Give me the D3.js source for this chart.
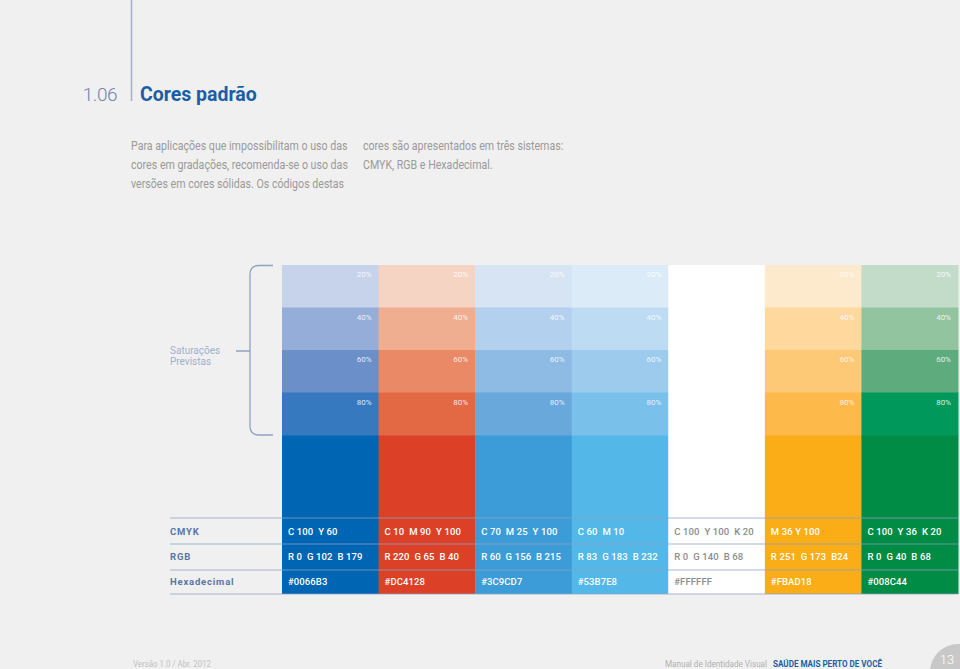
<!DOCTYPE html>
<html>
<head>
<meta charset="utf-8">
<script src="https://cdn.jsdelivr.net/npm/d3@7"></script>
<style>
  html, body { margin: 0; padding: 0; background: #f0f0f0; }
  svg { display: block; font-family: Roboto, "DejaVu Sans", sans-serif; }
</style>
</head>
<body>
<script>
/*** DATA ***/
const hexCodes = ["#0066B3", "#DC4128", "#3C9CD7", "#53B7E8", "#FFFFFF", "#FBAD18", "#008C44"];
const cmykLabels = ["C 100  Y 60", "C 10  M 90  Y 100", "C 70  M 25  Y 100", "C 60  M 10",
                    "C 100  Y 100  K 20", "M 36 Y 100", "C 100  Y 36  K 20"];
const rgbLabels = ["R 0  G 102  B 179", "R 220  G 65  B 40", "R 60  G 156  B 215", "R 83  G 183  B 232",
                   "R 0  G 140  B 68", "R 251  G 173  B24", "R 0  G 40  B 68"];
const saturations = [20, 40, 60, 80];
// tints, one list per column (20%, 40%, 60%, 80%)
const tints = [
  ["#c6d3eb", "#95add9", "#6a8fc9", "#3779bf"],
  ["#f6d4c3", "#efae8f", "#ea8966", "#e26944"],
  ["#d6e4f4", "#b3d0ee", "#8dbbe4", "#68a8db"],
  ["#dcebf8", "#bddcf3", "#9ccbee", "#79c0eb"],
  ["#ffffff", "#ffffff", "#ffffff", "#ffffff"],
  ["#fdeacd", "#fed89d", "#fdc977", "#fdba4a"],
  ["#c3dcca", "#92c4a0", "#5eac7d", "#00995b"]
];
const rowNames = ["CMYK", "RGB", "Hexadecimal"];

/*** LAYOUT ***/
const W = 960, H = 669;
const svg = d3.select("body").append("svg")
  .attr("width", W)
  .attr("height", H);

svg.append("rect").attr("width", W).attr("height", H).attr("fill", "#f0f0f0");

/* cabeçalho */
svg.append("line")
  .attr("x1", 131.5).attr("x2", 131.5).attr("y1", 0).attr("y2", 101)
  .attr("stroke", "#9fb0c8").attr("stroke-width", 1.5);

svg.append("text")
  .attr("x", 117).attr("y", 101)
  .attr("text-anchor", "end")
  .style("font-size", "19px").style("font-weight", 300)
  .attr("fill", "#6e86b0")
  .attr("letter-spacing", "-0.5")
  .text("1.06");

svg.append("text")
  .attr("x", 140).attr("y", 101)
  .style("font-size", "19.5px").style("font-weight", 700)
  .attr("fill", "#1a5ea6")
  .text("Cores padrão");

/* parágrafo (fonte estreitada para lembrar a DIN) */
const para1 = ["Para aplicações que impossibilitam o uso das",
               "cores em gradações, recomenda-se o uso das",
               "versões em cores sólidas. Os códigos destas"];
const para2 = ["cores são apresentados em três sistemas:",
               "CMYK, RGB e Hexadecimal."];
[[para1, 131], [para2, 363]].forEach(([lines, x0]) => {
  svg.append("g")
    .attr("transform", "translate(" + x0 + ",0) scale(0.865,1)")
    .selectAll("text")
    .data(lines)
    .enter().append("text")
    .attr("x", 0)
    .attr("y", (d, i) => 150 + i * 19)
    .style("font-size", "12.3px")
    .attr("fill", "#9a9a9a")
    .text(d => d);
});

/*** GRADE DE CORES ***/
const x = d3.scaleBand()
  .domain(d3.range(hexCodes.length))
  .range([282, 958]);

const y = d3.scaleBand()
  .domain(saturations)
  .range([265, 435]);

const yTable = d3.scaleBand()
  .domain(rowNames)
  .range([518, 594]);

const cols = svg.append("g").selectAll("g")
  .data(hexCodes)
  .enter().append("g")
  .attr("transform", (d, i) => "translate(" + x(i) + ",0)");

/* cor sólida */
cols.append("rect")
  .attr("y", 435)
  .attr("width", x.bandwidth() + 0.5)
  .attr("height", 594 - 435)
  .attr("fill", d => d);

/* saturações */
cols.each(function(d, i) {
  const g = d3.select(this);
  g.selectAll("rect.tint")
    .data(saturations)
    .enter().append("rect")
    .attr("class", "tint")
    .attr("y", s => y(s))
    .attr("width", x.bandwidth() + 0.5)
    .attr("height", y.bandwidth() + 0.5)
    .attr("fill", (s, j) => tints[i][j]);

  g.selectAll("text.pct")
    .data(saturations)
    .enter().append("text")
    .attr("class", "pct")
    .attr("x", x.bandwidth() - 7)
    .attr("y", s => y(s) + 12)
    .attr("text-anchor", "end")
    .style("font-size", "8px")
    .attr("fill", "#ffffff")
    .attr("fill-opacity", 0.85)
    .text(s => s + "%");
});

/* códigos */
const isWhite = d => d === "#FFFFFF";
const codeRows = [cmykLabels, rgbLabels, hexCodes];
codeRows.forEach((labels, r) => {
  cols.append("text")
    .attr("x", 6)
    .attr("y", yTable(rowNames[r]) + yTable.bandwidth() / 2 + 4)
    .style("font-size", "9.5px")
    .style("font-weight", 500)
    .style("white-space", "pre")
    .attr("letter-spacing", "0.1")
    .attr("fill", d => isWhite(d) ? "#8c8c8c" : "#ffffff")
    .text((d, i) => labels[i]);
});

/* linhas da tabela */
svg.append("g").selectAll("line")
  .data([518, 544, 570, 594])
  .enter().append("line")
  .attr("x1", 170).attr("x2", 958)
  .attr("y1", d => d).attr("y2", d => d)
  .attr("stroke", "#8ea2c2")
  .attr("stroke-opacity", 0.75)
  .attr("stroke-width", 1.2);

/* nomes das linhas */
svg.append("g").selectAll("text")
  .data(rowNames)
  .enter().append("text")
  .attr("x", 170)
  .attr("y", d => yTable(d) + yTable.bandwidth() / 2 + 4)
  .style("font-size", "9.5px")
  .style("font-weight", 700)
  .attr("letter-spacing", "0.8")
  .attr("fill", "#5876a6")
  .text(d => d);

/* chave "Saturações Previstas" */
const r = 9;
svg.append("path")
  .attr("d", "M273," + 265.5 + " H" + (250 + r) + " Q250," + 265.5 + " 250," + (265.5 + r)
    + " V" + (435 - r) + " Q250,435 " + (250 + r) + ",435 H273"
    + " M236,351 H250")
  .attr("fill", "none")
  .attr("stroke", "#8ea2c2")
  .attr("stroke-width", 1.3);

svg.append("g").selectAll("text")
  .data(["Saturações", "Previstas"])
  .enter().append("text")
  .attr("x", 170)
  .attr("y", (d, i) => 354 + i * 11)
  .style("font-size", "10px")
  .attr("fill", "#9fb0cc")
  .text(d => d);

/*** RODAPÉ ***/
svg.append("text")
  .attr("x", 133).attr("y", 667)
  .style("font-size", "8.5px")
  .attr("fill", "#c2c2c2")
  .attr("textLength", 78).attr("lengthAdjust", "spacingAndGlyphs")
  .text("Versão 1.0 / Abr. 2012");

svg.append("text")
  .attr("x", 665).attr("y", 667)
  .style("font-size", "8.5px")
  .attr("fill", "#b0b0b0")
  .attr("textLength", 102).attr("lengthAdjust", "spacingAndGlyphs")
  .text("Manual de Identidade Visual");

svg.append("text")
  .attr("x", 773).attr("y", 667)
  .style("font-size", "9px")
  .style("font-weight", 700)
  .attr("fill", "#1a5ea6")
  .attr("textLength", 109).attr("lengthAdjust", "spacingAndGlyphs")
  .text("SAÚDE MAIS PERTO DE VOCÊ");

svg.append("circle")
  .attr("cx", 958).attr("cy", 672)
  .attr("r", 28)
  .attr("fill", "#c8c8c8");

svg.append("text")
  .attr("x", 947).attr("y", 664)
  .attr("text-anchor", "middle")
  .style("font-size", "13px")
  .style("font-weight", 300)
  .attr("fill", "#ffffff")
  .text("13");
</script>
</body>
</html>
